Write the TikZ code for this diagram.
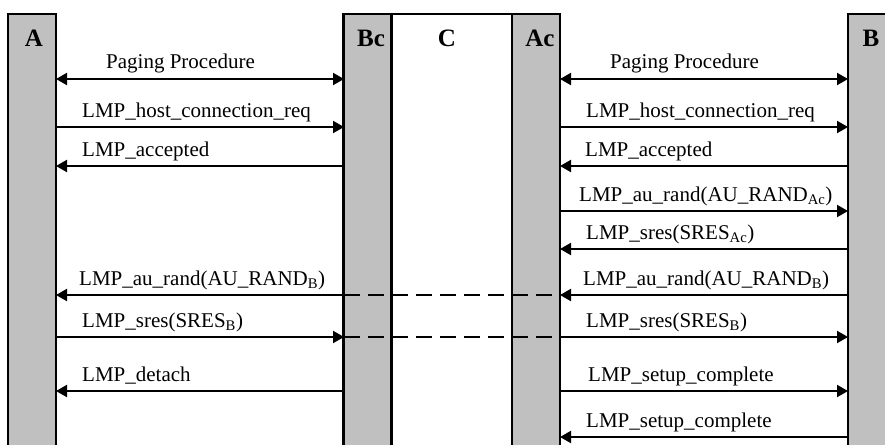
\documentclass[tikz,border=0pt]{standalone}
\usepackage{fontspec}
\setmainfont{Liberation Serif}
\usetikzlibrary{arrows.meta}
\definecolor{bargray}{RGB}{192,192,192}
\begin{document}
\begin{tikzpicture}[x=1pt,y=-1pt,
  bar/.style={draw=black, fill=bargray, line width=2.2pt, minimum width=48pt, minimum height=440pt, inner sep=0pt, outer sep=0pt, anchor=north},
  cbox/.style={draw=black, fill=white, line width=2.2pt, minimum width=121pt, minimum height=440pt, inner sep=0pt, outer sep=0pt, anchor=north},
  lbl/.style={font=\fontsize{25}{30}\selectfont\bfseries, anchor=base, inner sep=0pt},
  msg/.style={font=\fontsize{21}{25}\selectfont, anchor=base west, inner sep=0pt},
  arr/.style={line width=2pt, -{Triangle[length=11pt,width=12pt]}},
  darr/.style={line width=2pt, {Triangle[length=11pt,width=12pt]}-{Triangle[length=11pt,width=12pt]}},
  dsh/.style={line width=2pt, dash pattern=on 16pt off 8pt},
]
\useasboundingbox (0,0) rectangle (885,444);
\clip (0,0) rectangle (885,444);
% lifelines
\node[cbox] (C) at (451.5,14) {};
\node[bar] (A) at (32,14) {};
\node[bar] (Bc) at (367.5,14) {};
\node[bar] (Ac) at (536,14) {};
\node[bar] (B) at (872,14) {};
% labels
\node[lbl] (lA) at (34,47) {A};
\node[lbl] (lBc) at (371,47) {Bc};
\node[lbl] (lC) at (447,47) {C};
\node[lbl] (lAc) at (540,47) {Ac};
\node[lbl] (lB) at (871,47) {B};
% endpoints
\foreach \y/\n in {79/1,127/2,166/3,211/4,249/5,295/6,337/7,391/8,437/9}{
  \coordinate (a\n) at (56,\y);
  \coordinate (bc\n) at (344,\y);
  \coordinate (ac\n) at (560,\y);
  \coordinate (b\n) at (848,\y);
}
% left side
\draw[darr] (a1) -- (bc1);
\draw[arr] (a2) -- (bc2);
\draw[arr] (bc3) -- (a3);
\draw[arr] (bc6) -- (a6);
\draw[arr] (a7) -- (bc7);
\draw[arr] (bc8) -- (a8);
% right side
\draw[darr] (ac1) -- (b1);
\draw[arr] (ac2) -- (b2);
\draw[arr] (b3) -- (ac3);
\draw[arr] (ac4) -- (b4);
\draw[arr] (b5) -- (ac5);
\draw[arr] (b6) -- (ac6);
\draw[arr] (ac7) -- (b7);
\draw[arr] (ac8) -- (b8);
\draw[arr] (b9) -- (ac9);
% relays through C
\draw[dsh] (bc6) -- (ac6);
\draw[dsh] (bc7) -- (ac7);
% message texts
\node[msg] (t1l) at (106,68) {Paging Procedure};
\node[msg] (t2l) at (82,117) {LMP\_host\_connection\_req};
\node[msg] (t3l) at (82,156) {LMP\_accepted};
\node[msg] (t6l) at (79,285) {LMP\_au\_rand(AU\_RAND\textsubscript{B})};
\node[msg] (t7l) at (82,327) {LMP\_sres(SRES\textsubscript{B})};
\node[msg] (t8l) at (82,381) {LMP\_detach};
\node[msg] (t1r) at (610,68) {Paging Procedure};
\node[msg] (t2r) at (586,117) {LMP\_host\_connection\_req};
\node[msg] (t3r) at (585,156) {LMP\_accepted};
\node[msg] (t4r) at (579,201) {LMP\_au\_rand(AU\_RAND\textsubscript{Ac})};
\node[msg] (t5r) at (586,239) {LMP\_sres(SRES\textsubscript{Ac})};
\node[msg] (t6r) at (583,285) {LMP\_au\_rand(AU\_RAND\textsubscript{B})};
\node[msg] (t7r) at (586,327) {LMP\_sres(SRES\textsubscript{B})};
\node[msg] (t8r) at (588,381) {LMP\_setup\_complete};
\node[msg] (t9r) at (586,427) {LMP\_setup\_complete};
\end{tikzpicture}
\end{document}
